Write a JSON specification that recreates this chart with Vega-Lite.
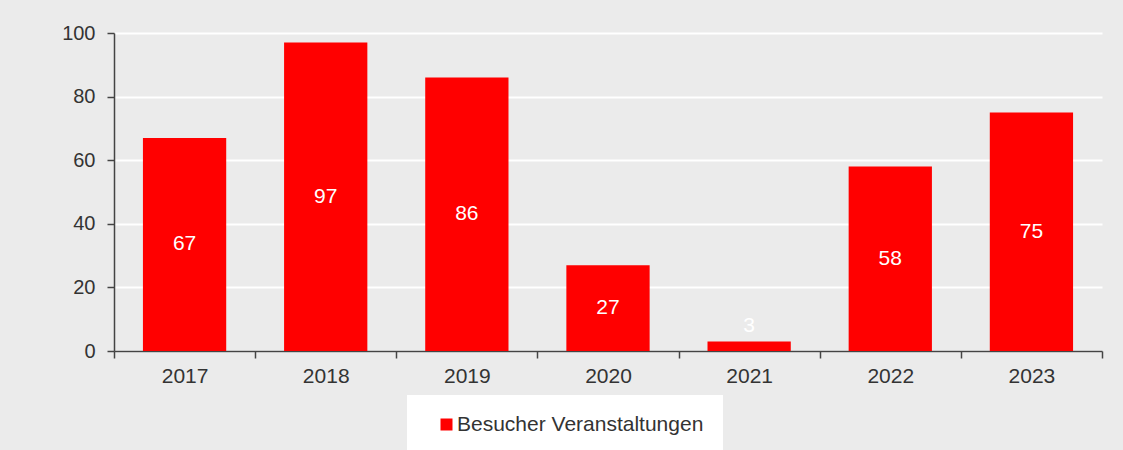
{
  "$schema": "https://vega.github.io/schema/vega-lite/v6.json",
  "width": 988,
  "height": 318,
  "autosize": {"type": "none"},
  "padding": {"left": 114, "top": 33, "right": 21, "bottom": 99},
  "background": "#ebebeb",
  "config": {
    "view": {"stroke": null, "fill": "#ebebeb"},
    "font": "Liberation Sans"
  },
  "data": {
    "values": [
      {"year": "2017", "value": 67, "series": "Besucher Veranstaltungen"},
      {"year": "2018", "value": 97, "series": "Besucher Veranstaltungen"},
      {"year": "2019", "value": 86, "series": "Besucher Veranstaltungen"},
      {"year": "2020", "value": 27, "series": "Besucher Veranstaltungen"},
      {"year": "2021", "value": 3, "series": "Besucher Veranstaltungen"},
      {"year": "2022", "value": 58, "series": "Besucher Veranstaltungen"},
      {"year": "2023", "value": 75, "series": "Besucher Veranstaltungen"}
    ]
  },
  "encoding": {
    "x": {
      "field": "year",
      "type": "nominal",
      "scale": {"paddingInner": 0, "paddingOuter": 0},
      "axis": {
        "title": null,
        "labelAngle": 0,
        "labelFontSize": 21,
        "labelColor": "#333333",
        "labelPadding": 7,
        "domainColor": "#444444",
        "domainWidth": 1.5,
        "tickColor": "#444444",
        "tickWidth": 1.5,
        "tickSize": 7,
        "tickBand": "extent",
        "grid": false
      }
    }
  },
  "layer": [
    {
      "mark": {"type": "bar", "color": "#ff0000", "width": {"band": 0.59}},
      "encoding": {
        "y": {
          "field": "value",
          "type": "quantitative",
          "scale": {"domain": [0, 100], "nice": false},
          "axis": {
            "title": null,
            "values": [0, 20, 40, 60, 80, 100],
            "labelFontSize": 20,
            "labelColor": "#333333",
            "labelPadding": 12,
            "domainColor": "#444444",
            "domainWidth": 1.5,
            "tickColor": "#444444",
            "tickWidth": 1.5,
            "tickSize": 7,
            "gridColor": "#ffffff",
            "gridWidth": 2,
            "gridOpacity": 1
          }
        },
        "color": {
          "field": "series",
          "type": "nominal",
          "scale": {"range": ["#ff0000"]},
          "legend": {
            "title": null,
            "orient": "none",
            "legendX": 293,
            "legendY": 362,
            "fillColor": "#ffffff",
            "padding": 19,
            "symbolType": "square",
            "symbolSize": 144,
            "symbolOffset": 10,
            "symbolStrokeWidth": 0,
            "labelFontSize": 21,
            "labelColor": "#333333",
            "labelOffset": 0,
            "labelLimit": 400
          }
        }
      }
    },
    {
      "transform": [{"calculate": "max(datum.value / 2, 8)", "as": "labelPos"}],
      "mark": {"type": "text", "color": "#ffffff", "fontSize": 21, "baseline": "middle"},
      "encoding": {
        "y": {"field": "labelPos", "type": "quantitative"},
        "text": {"field": "value", "type": "quantitative"}
      }
    }
  ]
}
